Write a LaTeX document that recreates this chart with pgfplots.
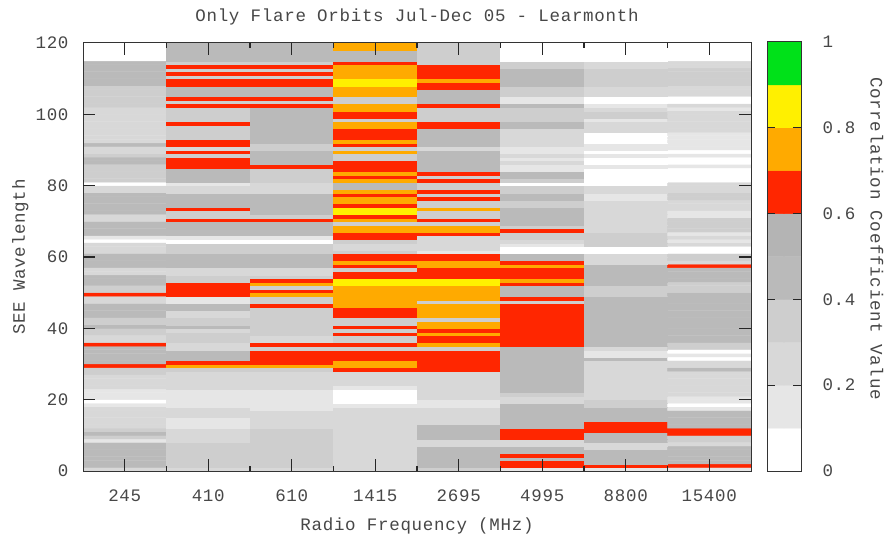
\documentclass[border=0pt]{standalone}
\usepackage{pgfplots}
\usepackage{fontspec}
\pgfplotsset{compat=1.18}
\newfontfamily\lab[LetterSpace=4]{Liberation Mono}
\newcommand{\fa}{\lab\fontsize{17.5bp}{20bp}\selectfont\color{black!72}}
\pgfplotsset{
  heat/.style={
    colormap={corr}{rgb255=(255,255,255) rgb255=(230,230,230) rgb255=(216,216,216) rgb255=(206,206,206)
      rgb255=(186,186,186) rgb255=(180,180,180) rgb255=(255,38,0) rgb255=(255,170,0) rgb255=(255,240,0) rgb255=(0,225,25)},
    colormap access=piecewise constant,
    point meta min=0, point meta max=10},
  axis line style={black!80,line width=1pt},
  /pgf/number format/assume math mode=true,
  ticklabel style={font=\fa},
  label style={font=\fa}}
\tikzset{tk/.style={fill=black!85,draw=none}}
\begin{document}
\begin{tikzpicture}
\path[use as bounding box] (0,0) rectangle (887bp,539bp);
\begin{axis}[heat,at={(83bp,68bp)},anchor=south west,scale only axis,width=668bp,height=428bp,
  xmin=0.5,xmax=8.5,ymin=0,ymax=120,
  xtick={1,...,8},xticklabels={245,410,610,1415,2695,4995,8800,15400},
  ytick={0,20,...,120},
  xticklabel style={yshift=-15bp},
  yticklabel style={xshift=-11bp},
  xlabel={Radio Frequency (MHz)},ylabel={SEE Wavelength},
  xlabel style={at={(0.5,0)},anchor=north,yshift=-43bp},
  ylabel style={at={(0,0.5)},anchor=south,yshift=51bp},
  title={Only Flare Orbits Jul-Dec 05 - Learmonth},
  title style={font=\fa,at={(0.5,1)},anchor=south,yshift=8bp,xshift=0bp}]
\addplot[matrix plot*,mesh/cols=8,mesh/rows=120,mesh/ordering=y varies,point meta=explicit]
 table[row sep=\\,x expr={floor(\coordindex/120)+1},y expr={mod(\coordindex,120)+0.5},meta expr={\thisrow{v}+0.5}]{
v\\
2\\4\\4\\4\\4\\4\\4\\4\\1\\3\\4\\3\\2\\2\\2\\2\\2\\2\\1\\0\\1\\1\\1\\2\\2\\2\\2\\3\\3\\6\\4\\4\\4\\4\\4\\6\\2\\2\\3\\3\\4\\3\\3\\4\\4\\4\\4\\2\\2\\6\\3\\3\\4\\4\\4\\2\\2\\4\\4\\4\\4\\2\\2\\2\\0\\1\\4\\4\\4\\4\\2\\2\\4\\4\\4\\4\\4\\4\\2\\2\\0\\3\\3\\3\\3\\3\\4\\4\\3\\2\\2\\4\\2\\2\\2\\2\\2\\2\\2\\2\\2\\2\\3\\3\\3\\3\\3\\3\\4\\4\\4\\4\\4\\4\\4\\0\\0\\0\\0\\0\\
2\\3\\3\\3\\3\\3\\3\\3\\2\\2\\2\\2\\1\\1\\1\\2\\2\\2\\1\\1\\1\\1\\1\\2\\2\\2\\2\\2\\3\\7\\6\\4\\4\\4\\2\\2\\3\\3\\3\\2\\4\\3\\3\\2\\2\\4\\4\\1\\1\\6\\6\\6\\6\\3\\3\\2\\2\\4\\4\\4\\4\\3\\3\\3\\0\\1\\4\\4\\4\\4\\6\\3\\3\\6\\4\\4\\4\\4\\2\\2\\1\\4\\4\\4\\4\\6\\6\\6\\3\\6\\2\\6\\6\\3\\3\\3\\3\\6\\3\\3\\3\\3\\6\\3\\6\\4\\4\\4\\6\\6\\3\\6\\3\\6\\3\\4\\4\\4\\4\\4\\
2\\3\\3\\3\\3\\3\\3\\3\\3\\3\\3\\3\\2\\2\\2\\2\\2\\1\\1\\1\\1\\1\\1\\2\\2\\2\\2\\2\\3\\7\\6\\6\\6\\6\\3\\6\\2\\2\\3\\3\\3\\3\\3\\3\\3\\3\\6\\3\\3\\7\\6\\3\\7\\6\\3\\2\\2\\4\\4\\4\\4\\3\\3\\3\\0\\1\\4\\4\\4\\4\\6\\3\\4\\4\\4\\4\\4\\4\\2\\2\\2\\3\\3\\3\\3\\6\\4\\4\\4\\4\\3\\3\\4\\4\\4\\4\\4\\4\\4\\4\\4\\4\\6\\3\\6\\4\\4\\4\\6\\6\\3\\6\\3\\6\\3\\4\\4\\4\\4\\4\\
2\\2\\2\\2\\2\\2\\2\\2\\2\\2\\2\\2\\2\\2\\2\\2\\2\\2\\1\\0\\0\\0\\0\\1\\2\\2\\2\\2\\6\\7\\7\\6\\6\\6\\3\\6\\3\\3\\6\\3\\6\\3\\3\\6\\6\\6\\7\\7\\7\\7\\7\\7\\8\\8\\6\\6\\3\\6\\7\\6\\6\\3\\2\\2\\3\\6\\6\\7\\7\\3\\7\\6\\8\\8\\6\\7\\7\\6\\7\\4\\4\\7\\6\\7\\6\\6\\6\\3\\3\\7\\3\\6\\7\\6\\6\\6\\7\\7\\3\\6\\6\\7\\7\\3\\3\\7\\7\\7\\8\\8\\7\\7\\7\\7\\6\\4\\4\\4\\7\\7\\
3\\4\\4\\4\\4\\4\\4\\2\\2\\4\\4\\4\\4\\2\\2\\2\\2\\2\\1\\1\\2\\2\\2\\2\\2\\2\\2\\2\\6\\6\\6\\6\\6\\6\\3\\7\\6\\6\\7\\6\\7\\7\\3\\7\\7\\7\\7\\3\\7\\7\\7\\7\\8\\8\\6\\6\\6\\7\\7\\6\\6\\1\\2\\2\\2\\2\\6\\7\\7\\3\\6\\3\\3\\7\\3\\3\\6\\3\\6\\3\\3\\6\\3\\6\\4\\4\\4\\4\\4\\4\\2\\4\\4\\4\\4\\4\\6\\6\\3\\3\\3\\3\\6\\4\\4\\4\\4\\6\\6\\7\\6\\6\\6\\6\\3\\3\\3\\3\\3\\3\\
1\\6\\6\\4\\6\\4\\4\\2\\2\\6\\6\\6\\4\\4\\4\\4\\4\\4\\4\\2\\2\\3\\4\\4\\4\\4\\4\\4\\4\\4\\4\\4\\4\\4\\4\\6\\6\\6\\6\\6\\6\\6\\6\\6\\6\\6\\6\\3\\6\\4\\4\\4\\6\\7\\6\\6\\6\\7\\6\\4\\4\\0\\0\\1\\2\\3\\3\\6\\3\\4\\4\\4\\4\\4\\3\\3\\4\\4\\3\\3\\0\\3\\4\\4\\1\\1\\2\\1\\2\\1\\1\\2\\2\\2\\2\\2\\4\\4\\3\\3\\3\\3\\4\\1\\1\\3\\3\\3\\4\\4\\4\\4\\4\\3\\3\\0\\0\\0\\0\\0\\
1\\6\\4\\4\\4\\4\\2\\2\\4\\4\\4\\6\\6\\6\\4\\4\\4\\4\\3\\3\\2\\2\\2\\2\\2\\2\\2\\2\\2\\2\\2\\4\\1\\1\\2\\4\\4\\4\\4\\4\\4\\4\\4\\4\\4\\4\\4\\4\\4\\3\\3\\3\\4\\4\\4\\4\\4\\4\\2\\2\\2\\0\\0\\3\\3\\3\\3\\2\\2\\2\\2\\2\\2\\2\\2\\2\\1\\1\\2\\2\\0\\0\\0\\0\\0\\1\\0\\0\\1\\0\\1\\1\\0\\0\\0\\2\\2\\2\\1\\3\\3\\2\\1\\0\\0\\2\\2\\2\\3\\3\\3\\3\\3\\2\\2\\0\\0\\0\\0\\0\\
1\\6\\4\\4\\4\\4\\4\\2\\3\\3\\6\\6\\4\\4\\4\\4\\4\\1\\0\\1\\1\\2\\2\\2\\2\\2\\2\\2\\4\\2\\2\\0\\1\\0\\3\\3\\4\\4\\4\\4\\4\\4\\4\\4\\4\\4\\4\\4\\4\\4\\3\\3\\3\\4\\4\\4\\4\\6\\2\\3\\3\\0\\0\\2\\1\\2\\1\\3\\3\\3\\3\\1\\1\\2\\2\\2\\3\\3\\2\\2\\2\\0\\0\\0\\0\\1\\0\\0\\1\\0\\1\\1\\1\\1\\1\\2\\2\\2\\2\\2\\2\\1\\2\\0\\0\\2\\2\\2\\3\\3\\3\\3\\3\\2\\2\\0\\0\\0\\0\\0\\
};
\end{axis}
\begin{axis}[at={(83bp,68bp)},anchor=south west,scale only axis,width=668bp,height=428bp,
  xmin=0.5,xmax=8.5,ymin=0,ymax=120,xtick=\empty,ytick=\empty,clip=false]
\pgfplotsinvokeforeach{1,...,8}{
  \fill[tk] ([xshift=-0.6bp]axis cs:#1,0) rectangle ([xshift=0.6bp]axis cs:#1,3.36);
  \fill[tk] ([xshift=-0.6bp]axis cs:#1,120) rectangle ([xshift=0.6bp]axis cs:#1,116.64);}
\pgfplotsinvokeforeach{1.5,2.5,3.5,4.5,5.5,6.5,7.5}{
  \fill[tk] ([xshift=-0.6bp]axis cs:#1,0) rectangle ([xshift=0.6bp]axis cs:#1,1.4);
  \fill[tk] ([xshift=-0.6bp]axis cs:#1,120) rectangle ([xshift=0.6bp]axis cs:#1,118.6);}
\pgfplotsinvokeforeach{20,40,60,80,100}{
  \fill[tk] ([yshift=-0.6bp]axis cs:0.5,#1) rectangle ([yshift=0.6bp]axis cs:0.644,#1);
  \fill[tk] ([yshift=-0.6bp]axis cs:8.5,#1) rectangle ([yshift=0.6bp]axis cs:8.356,#1);}
\end{axis}
\begin{axis}[heat,at={(767bp,68bp)},anchor=south west,scale only axis,width=34bp,height=429bp,
  xmin=0,xmax=1,ymin=0,ymax=1,xtick=\empty,
  ytick={0,0.2,0.4,0.6,0.8,1},yticklabels={0,0.2,0.4,0.6,0.8,1},
  yticklabel pos=right,
  yticklabel style={anchor=west,xshift=18bp},
  ylabel={Correlation Coefficient Value},
  ylabel style={at={(1,0.542)},anchor=south,rotate=180,yshift=66bp}]
\addplot[matrix plot*,mesh/cols=2,mesh/rows=10,mesh/ordering=y varies,point meta=explicit]
 table[row sep=\\,x expr={floor(\coordindex/10)*1+0},y expr={mod(\coordindex,10)/10+0.05},meta expr={\thisrow{v}+0.5}]{
v\\0\\1\\2\\3\\4\\5\\6\\7\\8\\9\\0\\1\\2\\3\\4\\5\\6\\7\\8\\9\\
};
\end{axis}
\begin{axis}[at={(767bp,68bp)},anchor=south west,scale only axis,width=34bp,height=429bp,
  xmin=0,xmax=1,ymin=0,ymax=1,xtick=\empty,ytick=\empty,clip=false]
\pgfplotsinvokeforeach{0.2,0.4,0.6,0.8}{
  \fill[tk] ([yshift=-0.6bp]axis cs:0,#1) rectangle ([yshift=0.6bp]axis cs:0.235,#1);
  \fill[tk] ([yshift=-0.6bp]axis cs:1,#1) rectangle ([yshift=0.6bp]axis cs:0.765,#1);}
\end{axis}
\end{tikzpicture}
\end{document}
